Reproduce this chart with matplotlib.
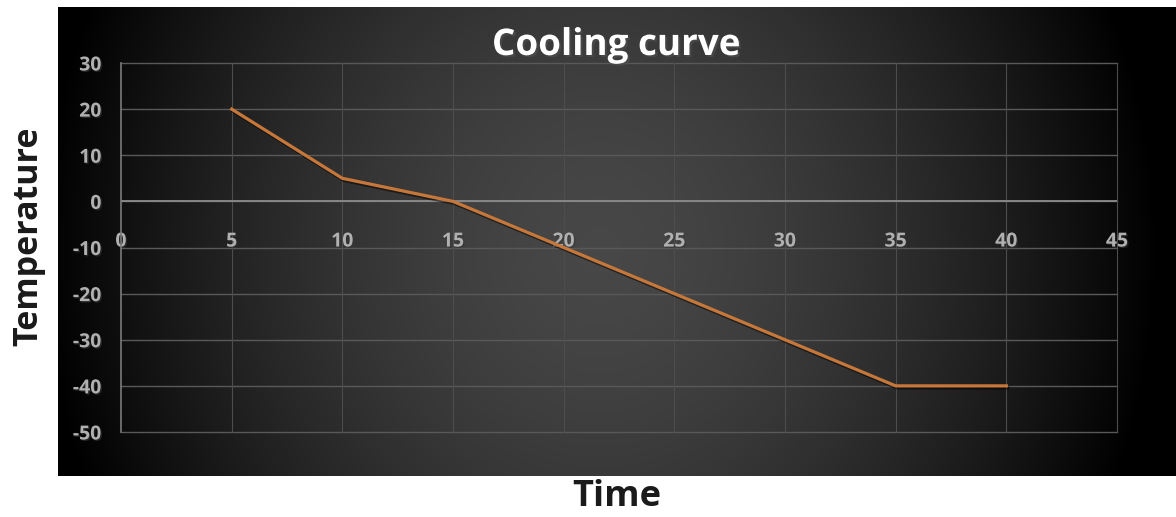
import numpy as np
import matplotlib
matplotlib.use("Agg")
import matplotlib.pyplot as plt
import matplotlib.patheffects as pe

# data
time = [5, 10, 15, 20, 25, 30, 35, 40]
temperature = [20, 5, 0, -10, -20, -30, -40, -40]
x_ticks = [0, 5, 10, 15, 20, 25, 30, 35, 40, 45]
y_ticks = [-50, -40, -30, -20, -10, 0, 10, 20, 30]

W, H = 1176, 517
plt.rcParams['font.family'] = ['Open Sans', 'DejaVu Sans']
plt.rcParams['axes.unicode_minus'] = False

fig = plt.figure(figsize=(W / 100, H / 100), dpi=100)
fig.patch.set_facecolor('white')

# dark panel with radial gradient
bg = fig.add_axes([58 / W, (H - 476) / H, (W - 58) / W, 469 / H])
bg.set_axis_off()
xx, yy = np.meshgrid(np.linspace(58, W, 600), np.linspace(7, 476, 300))
r = np.sqrt(((xx - 600) / 560) ** 2 + ((yy - 250) / 620) ** 2)
v = np.clip(0.28 * (1 - r ** 1.6), 0, 1)
bg.imshow(np.dstack([v, v, v]), aspect='auto', extent=[0, 1, 0, 1], interpolation='bilinear')

# plot area
left, right, top, bottom = 121, 1117, 63, 432
ax = fig.add_axes([left / W, (H - bottom) / H, (right - left) / W, (bottom - top) / H])
ax.patch.set_alpha(0)
ax.set_xlim(0, 45)
ax.set_ylim(-50, 30)

for yv in y_ticks:
    ax.axhline(yv, color='#595959', lw=1, zorder=1, clip_on=False)
for xv in x_ticks[1:]:
    ax.axvline(xv, color='#4d4d4d', lw=0.8, zorder=1, clip_on=False)
ax.axhline(0, color='#8c8c8c', lw=1.3, zorder=2)
ax.axvline(0, color='#7a7a7a', lw=1.2, zorder=2, clip_on=False)

for s in ax.spines.values():
    s.set_visible(False)

ax.plot(time, temperature, color='#c8773a', lw=2.3, zorder=3,
        path_effects=[pe.SimpleLineShadow(offset=(1, -1.5), alpha=0.5), pe.Normal()])

ax.set_xticks(x_ticks)
ax.set_yticks(y_ticks)
ax.tick_params(axis='both', length=0, labelsize=14, labelcolor='#b0b0b0')
ax.tick_params(axis='y', pad=14)
ax.tick_params(axis='x', pad=-(bottom - 201) * 0.72 + 22)
for lab in ax.get_xticklabels() + ax.get_yticklabels():
    lab.set_fontweight('bold')
    lab.set_path_effects([pe.withSimplePatchShadow(offset=(1, -1), alpha=0.6)])

fig.text(616 / W, (H - 55) / H, 'Cooling curve', color='white', fontsize=26.5,
         fontweight='bold', ha='center', va='baseline',
         path_effects=[pe.withSimplePatchShadow(offset=(1.5, -1.5), alpha=0.7)])

fig.text(28 / W, (H - 236) / H, 'Temperature', color='#1a1a1a', fontsize=24.5,
         fontweight='bold', rotation=90, ha='center', va='center')
fig.text(617 / W, (H - 497) / H, 'Time', color='#1a1a1a', fontsize=26,
         fontweight='bold', ha='center', va='center')

fig.savefig('out.png', dpi=100, facecolor=fig.get_facecolor())
